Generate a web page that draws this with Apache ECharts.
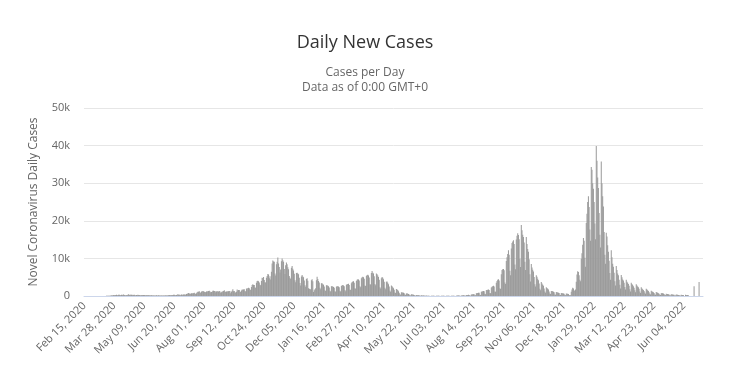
<!DOCTYPE html>
<html>
<head>
<meta charset="utf-8">
<script src="https://cdn.jsdelivr.net/npm/echarts@6/dist/echarts.min.js"></script>
<style>html,body{margin:0;padding:0;background:#fff;}#chart{width:730px;height:382px;}</style>
</head>
<body>
<div id="chart"></div>
<script>
// Daily new cases, one value per day starting Feb 15, 2020
var startDate = [2020, 1, 15];
var feb2020 = [0,0,0,0,0,0,0,0,0,0,0,1,0,0,0];
var mar2020 = [0,0,0,3,0,0,2,1,2,4,12,4,13,21,16,27,45,60,48,63,59,66,143,143,186,123,263,182,293,251,308];
var apr2020 = [210,285,303,348,265,218,342,287,324,377,271,232,211,175,284,333,441,291,327,314,352,262,349,275,342,296,165,268,264,312];
var may2020 = [280,246,210,200,170,240,270,276,250,210,170,190,196,245,170,178,150,215,175,143,186,150,147,136,123,170,141,157,167,100,118];
var jun2020 = [134,138,127,119,115,124,144,168,119,143,192,198,247,282,168,225,249,260,320,330,252,191,251,324,460,325,301,320,230,423];
var jul2020 = [318,329,427,377,416,347,555,614,698,777,663,581,615,699,606,789,757,889,698,530,725,1030,1112,1119,1284,1004,818,1151,1356,1182,1295];
var aug2020 = [1139,1096,969,1165,1232,1207,1345,1378,1215,998,1060,1144,1415,1408,1324,1305,1014,1170,1309,1139,1198,1346,1184,859,1009,1213,1215,1300,1504,1180,1063];
var sep2020 = [1186,1226,1256,1256,1360,1245,760,1100,1380,1767,1250,1339,961,935,1136,1713,1490,1592,1587,1212,1044,1434,1757,1659,1737,1767,1346,1227,1967,1798];
var oct2020 = [2158,2223,2070,1741,1591,2376,2958,3130,2919,2953,2327,2107,3517,4016,4038,3952,3606,2994,2863,3989,4848,4767,5080,4284,3678,3577,4882,5325,5863,5730,4704];
var nov2020 = [5241,4361,6481,8651,9474,9189,9081,5967,5474,8469,9119,10269,8623,7692,6262,7037,9267,9994,9475,9119,7163,5837,8201,8930,8434,7651,7096,5349,4861,4512];
var dec2020 = [7489,8003,7226,6781,5888,4196,3686,6113,6186,5982,5812,4829,3437,2770,5202,5601,5219,4978,4101,2860,2470,4519,4711,4030,2046,1898,1839,1761,4180,4470,3913];
var jan2021 = [1045,1534,1768,2032,4181,5110,4497,3992,3578,2213,1767,3416,3362,3113,2999,2529,1554,1303,2891,2877,2719,2577,2287,1394,1230,2610,2571,2503,2400,2201,1243];
var feb2021 = [1132,2473,2637,2546,2500,2338,1408,1223,2659,2841,2913,2802,2571,1598,1268,3003,3138,3202,3284,2936,1697,1595,3406,3749,3838,3914,3491,2081];
var mar2021 = [1902,4011,4346,4442,4398,4132,2584,2342,4698,5018,5138,4985,4592,2773,2677,5286,5592,5632,5482,4938,3156,3048,6085,6651,6214,5957,5258,3180,2876,6017,5762];
var apr2021 = [5456,5071,4347,2316,2022,4710,5050,4839,4440,3784,2172,1788,3783,3860,3492,3151,2553,1458,1144,2804,2624,2301,2058,1642,934,814,1834,1743,1584,1273];
var may2021 = [861,497,318,1026,963,913,850,730,368,241,689,710,606,513,407,172,156,436,430,370,330,269,108,82,253,265,213,209,189,71,63];
var jun2021 = [186,162,139,147,117,48,35,108,98,92,80,69,32,21,60,66,56,55,45,24,17,48,56,50,43,37,15,11,44,42];
var jul2021 = [49,45,36,13,10,39,52,48,50,45,21,14,58,72,78,76,67,24,19,86,101,107,113,100,44,31,135,166,176,189,179];
var aug2021 = [85,60,270,283,294,312,279,117,97,402,420,485,495,489,195,169,741,785,831,887,850,355,294,1118,1190,1274,1348,1274,574,474,1614];
var sep2021 = [1540,1670,1740,1620,820,760,2270,2440,2580,2700,2500,1210,1110,3530,4020,4300,4460,4130,2050,1860,5800,6900,7100,7200,6850,3600,3200,9300,10300,11200];
var oct2021 = [12200,11000,6700,5500,12600,14100,14500,14800,13800,8400,7100,15000,16000,16700,16200,15100,9900,7700,18900,17500,16300,15700,14200,9100,6900,15700,13800,12500,11800,9800,5800];
var nov2021 = [3850,8500,7600,7000,6500,5030,3100,2500,5500,5100,4600,4200,3300,1950,1500,3700,3300,3000,2700,2010,1180,890,2300,2100,1900,1700,1200,640,500,1300];
var dec2021 = [1300,1250,1150,1000,430,360,1050,1000,930,850,800,350,280,800,760,700,660,600,280,230,640,620,610,540,240,180,190,1100,1760,2200,2000];
var jan2022 = [1500,1300,1700,3800,5700,6600,6400,5500,4300,3900,9900,11400,13600,15400,14700,10200,7800,19400,21900,25000,26500,23700,17700,14700,34300,33600,30000,28500,25000,19300,15100];
var feb2022 = [39900,36000,31500,28700,22100,16300,12900,35800,30000,26500,23800,17000,11000,8600,16800,15800,13500,11800,9400,6100,4300,12200,10300,8600,7800,6200,3900,2800];
var mar2022 = [8000,6900,6000,5500,4300,3000,2000,5600,5000,4400,4100,3500,2400,1700,4300,3800,3500,3200,2700,1800,1200,3500,3200,2900,2600,2200,1500,1000,3100,2800,2500];
var apr2022 = [2300,1900,1200,800,2300,2000,1800,1600,1300,900,600,1900,1700,1500,1300,1000,600,400,1400,1200,1100,1000,800,400,300,1050,950,850,750,600];
var may2022 = [300,250,700,800,700,650,500,250,180,600,550,500,450,380,180,130,470,420,400,350,300,140,100,380,350,320,290,250,110,80,320];
var jun2022 = [290,270,240,0,0,350,280,260,250,230,0,0,0,0,0,0,0,2600,0,0,0,0,0,0,3700,0,0,0,0,0];

var yTicks = [0, 10000, 20000, 30000, 40000, 50000];

var cases = [].concat(feb2020, mar2020, apr2020, may2020, jun2020, jul2020, aug2020, sep2020, oct2020, nov2020, dec2020,
  jan2021, feb2021, mar2021, apr2021, may2021, jun2021, jul2021, aug2021, sep2021, oct2021, nov2021, dec2021,
  jan2022, feb2022, mar2022, apr2022, may2022, jun2022);

var MON = ['Jan','Feb','Mar','Apr','May','Jun','Jul','Aug','Sep','Oct','Nov','Dec'];
var categories = [];
for (var i = 0; i < cases.length; i++) {
  var d = new Date(Date.UTC(startDate[0], startDate[1], startDate[2] + i));
  var dd = d.getUTCDate();
  categories.push(MON[d.getUTCMonth()] + ' ' + (dd < 10 ? '0' + dd : dd) + ', ' + d.getUTCFullYear());
}

var FONT = "'Open Sans', 'DejaVu Sans', sans-serif";
var chart = echarts.init(document.getElementById('chart'), null, {renderer: 'canvas'});
chart.setOption({
  animation: false,
  backgroundColor: '#ffffff',
  title: {
    text: 'Daily New Cases',
    subtext: 'Cases per Day\nData as of 0:00 GMT+0',
    left: 'center',
    top: 27,
    itemGap: 11,
    textStyle: {fontFamily: FONT, fontSize: 18, fontWeight: 'normal', color: '#333333', lineHeight: 22},
    subtextStyle: {fontFamily: FONT, fontSize: 12, color: '#666666', lineHeight: 15}
  },
  grid: {left: 84, right: 27, top: 108, bottom: 86},
  xAxis: {
    type: 'category',
    data: categories,
    boundaryGap: true,
    axisTick: {show: false},
    axisLine: {lineStyle: {color: '#ccd6eb'}},
    axisLabel: {interval: 41, rotate: 45, color: '#666666', fontSize: 11, fontFamily: FONT, margin: 8}
  },
  yAxis: {
    type: 'value',
    min: yTicks[0],
    max: yTicks[yTicks.length - 1],
    interval: 10000,
    name: 'Novel Coronavirus Daily Cases',
    nameLocation: 'middle',
    nameGap: 44,
    nameTextStyle: {color: '#666666', fontSize: 12, fontFamily: FONT},
    axisLine: {show: false},
    axisTick: {show: false},
    axisLabel: {
      color: '#666666', fontSize: 11, fontFamily: FONT, margin: 14,
      formatter: function (v) { return v === 0 ? '0' : (v / 1000) + 'k'; }
    },
    splitLine: {lineStyle: {color: '#e6e6e6'}}
  },
  series: [{
    type: 'bar',
    data: cases,
    barCategoryGap: '0%',
    itemStyle: {color: '#999999'}
  }]
});
</script>
</body>
</html>
